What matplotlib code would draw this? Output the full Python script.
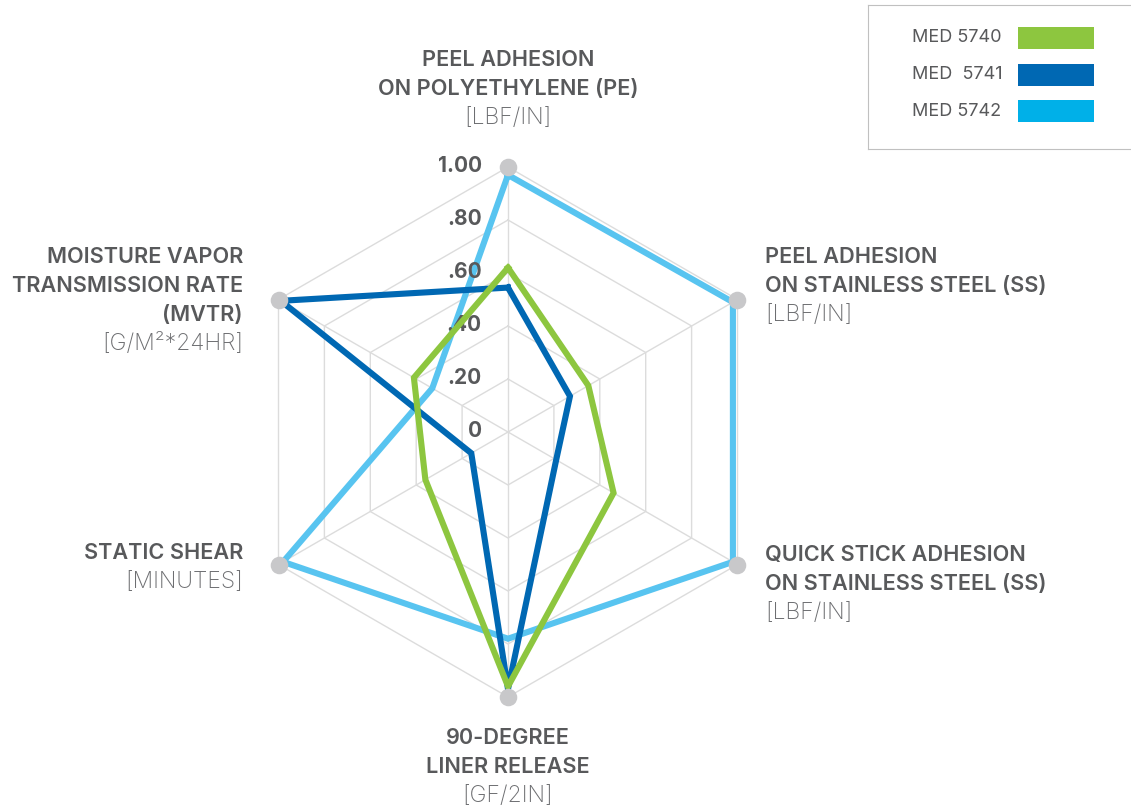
import numpy as np
import matplotlib
matplotlib.use("Agg")
from matplotlib import pyplot as plt
from matplotlib.patches import Rectangle

plt.rcParams['font.family'] = ['Inter', 'DejaVu Sans']

# axes go clockwise from the top
axis_names = ['PE', 'SS', 'QUICK', 'LINER', 'SHEAR', 'MVTR']
med_5740 = [0.62, 0.35, 0.46, 0.96, 0.36, 0.41]
med_5741 = [0.545, 0.27, 0.21, 0.97, 0.16, 0.99]
med_5742 = [0.97, 0.98, 0.98, 0.78, 0.98, 0.33]
series_names = ['MED 5740', 'MED  5741', 'MED 5742']
tick_vals = [0, 0.2, 0.4, 0.6, 0.8, 1.0]
tick_labels = ['0', '.20', '.40', '.60', '.80', '1.00']

green = '#8dc63f'
dblue = '#0068b3'
lblue = '#58c4f0'
lblue_legend = '#00b0e8'
grid_c = '#dcdcdc'
text_c = '#58595b'
unit_c = '#6d6e71'

W, H = 1131, 809
fig = plt.figure(figsize=(W / 100, H / 100), dpi=100)

cx, cy, R = 508, 432, 265
ax = fig.add_axes([(cx - R) / W, (H - cy - R) / H, 2 * R / W, 2 * R / H], projection='polar')
ax.set_theta_offset(np.pi / 2)
ax.set_theta_direction(-1)
ax.set_ylim(0, 1)
ax.axis('off')

n = len(axis_names)
theta = np.arange(n) * 2 * np.pi / n
theta_c = np.append(theta, theta[0])

# hexagon grid
for v in tick_vals[1:]:
    ax.plot(theta_c, [v] * (n + 1), color=grid_c, lw=1, zorder=1)
for t in theta:
    ax.plot([t, t], [0, 1], color=grid_c, lw=1, zorder=1)

for vals, col, z in [(med_5742, lblue, 3), (med_5741, dblue, 4), (med_5740, green, 5)]:
    ax.plot(theta_c, vals + vals[:1], color=col, lw=4.4, zorder=z,
            solid_joinstyle='miter', clip_on=False)

ax.scatter(theta, [1] * n, s=160, color='#c8c8ca', zorder=6, clip_on=False, lw=0)

for v, lab in zip(tick_vals, tick_labels):
    ax.annotate(lab, xy=(0, v), xytext=(-19, 1), textcoords='offset points',
                ha='right', va='center', fontsize=15, fontweight='bold', color=text_c)


def fx(x):
    return x / W


def fy(y):
    return 1 - y / H


def label(x, y, bold_lines, unit, ha):
    step = 29
    for i, s in enumerate(bold_lines):
        fig.text(fx(x), fy(y + i * step), s, ha=ha, va='center', fontsize=15.6,
                 fontweight='semibold', color=text_c)
    fig.text(fx(x), fy(y + len(bold_lines) * step), unit, ha=ha, va='center',
             fontsize=16.5, fontweight='light', color=unit_c)


label(508, 60, ['PEEL ADHESION', 'ON POLYETHYLENE (PE)'], '[LBF/IN]', 'center')
label(765, 257, ['PEEL ADHESION', 'ON STAINLESS STEEL (SS)'], '[LBF/IN]', 'left')
label(765, 555, ['QUICK STICK ADHESION', 'ON STAINLESS STEEL (SS)'], '[LBF/IN]', 'left')
label(508, 738, ['90-DEGREE', 'LINER RELEASE'], '[GF/2IN]', 'center')
label(243, 553, ['STATIC SHEAR'], '[MINUTES]', 'right')
label(243, 257, ['MOISTURE VAPOR', 'TRANSMISSION RATE', '(MVTR)'], '[G/M²*24HR]', 'right')

# legend box
lax = fig.add_axes([fx(868), fy(149), fx(300), 144 / H])
lax.set_xlim(868, 1168)
lax.set_ylim(149, 5)
lax.set_xticks([])
lax.set_yticks([])
for sp in lax.spines.values():
    sp.set_color('#c0c0c0')
for i, (name, col) in enumerate(zip(series_names, [green, dblue, lblue_legend])):
    yc = 38 + i * 36.5
    lax.text(912, yc, name, ha='left', va='center', fontsize=13, color=text_c)
    lax.add_patch(Rectangle((1018, yc - 11), 76, 22, color=col, lw=0))

fig.savefig('out.png', dpi=100)
